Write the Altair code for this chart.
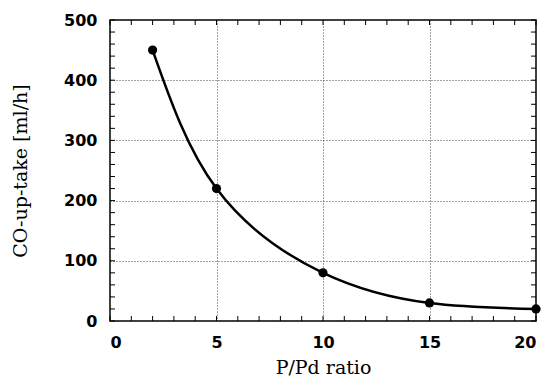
import altair as alt
import pandas as pd

ratio = [2, 5, 10, 15, 20]
uptake = [450, 220, 80, 30, 20]

x_ticks = list(range(0, 21, 1))
y_ticks = list(range(0, 501, 20))

df = pd.DataFrame({"ratio": ratio, "uptake": uptake})
xt = pd.DataFrame({"ratio": x_ticks})
yt = pd.DataFrame({"uptake": y_ticks})

W, H, TL = 426, 301, 5

SERIF = "DejaVu Serif"
SANS = "DejaVu Sans"

x_scale = alt.Scale(domain=[0, 20], nice=False, zero=False)
y_scale = alt.Scale(domain=[0, 500], nice=False, zero=False)

x_axis = alt.Axis(orient="bottom", values=x_ticks, title="P/Pd ratio",
                  labelExpr="datum.value % 5 == 0 ? datum.label : ''",
                  labelOverlap=False, ticks=False, domain=False, labelPadding=13,
                  labelFont=SANS, labelFontSize=16, labelFontWeight="bold",
                  labelColor="black",
                  titleFont=SERIF, titleFontSize=19, titleFontWeight="normal",
                  titleColor="black", titlePadding=8,
                  grid=True, gridColor="#444", gridDash=[1, 2], gridWidth=1,
                  gridOpacity={"condition": {"test": "datum.value % 5 == 0", "value": 1}, "value": 0})
y_axis = alt.Axis(orient="left", values=y_ticks, title="CO-up-take [ml/h]",
                  labelExpr="datum.value % 100 == 0 ? datum.label : ''",
                  labelOverlap=False, ticks=False, domain=False, labelPadding=13,
                  labelFont=SANS, labelFontSize=16, labelFontWeight="bold",
                  labelColor="black",
                  titleFont=SERIF, titleFontSize=19, titleFontWeight="normal",
                  titleColor="black", titlePadding=33,
                  grid=True, gridColor="#444", gridDash=[1, 2], gridWidth=1,
                  gridOpacity={"condition": {"test": "datum.value % 100 == 0", "value": 1}, "value": 0})

X = lambda: alt.X("ratio:Q", scale=x_scale, axis=x_axis, title="P/Pd ratio")
Y = lambda: alt.Y("uptake:Q", scale=y_scale, axis=y_axis, title="CO-up-take [ml/h]")

line = alt.Chart(df).mark_line(interpolate="natural", color="black", strokeWidth=2.5).encode(
    x=X(), y=Y(),
)

points = alt.Chart(df).mark_circle(color="black", opacity=1, size=85).encode(
    x=X(), y=Y(),
)

tick_style = dict(color="black", strokeWidth=1)

bottom_ticks = alt.Chart(xt).mark_rule(**tick_style).encode(
    x=X(), y=alt.value(H), y2=alt.value(H - TL),
)
top_ticks = alt.Chart(xt).mark_rule(**tick_style).encode(
    x=X(), y=alt.value(0), y2=alt.value(TL),
)
left_ticks = alt.Chart(yt).mark_rule(**tick_style).encode(
    y=Y(), x=alt.value(0), x2=alt.value(TL),
)
right_ticks = alt.Chart(yt).mark_rule(**tick_style).encode(
    y=Y(), x=alt.value(W), x2=alt.value(W - TL),
)

chart = alt.layer(line, bottom_ticks, top_ticks, left_ticks, right_ticks, points).properties(
    width=W, height=H,
    autosize=alt.AutoSizeParams(type="none"),
    padding={"left": 110, "top": 20, "right": 15, "bottom": 58},
    background="white",
).configure_view(stroke="black", strokeWidth=1.5)

chart.save("out.html", embed_options={"renderer": "svg", "actions": False})
